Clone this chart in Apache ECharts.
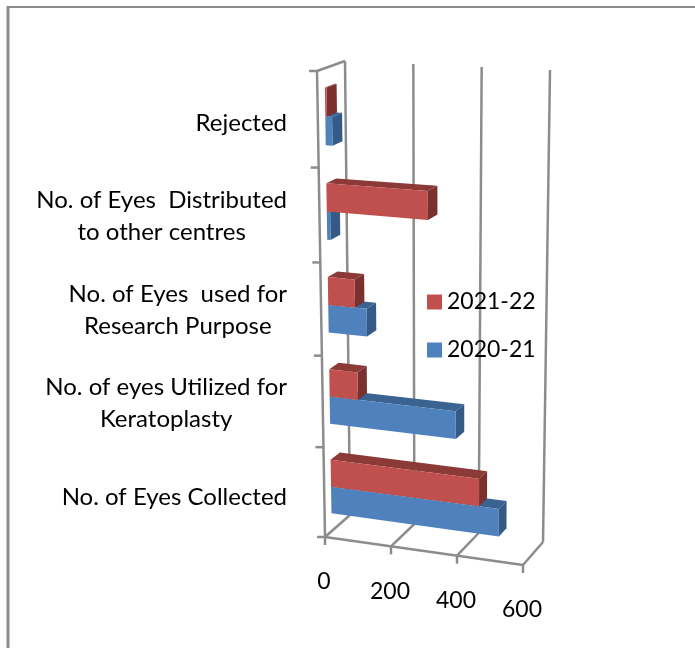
<!DOCTYPE html>
<html>
<head>
<meta charset="utf-8">
<style>
html,body{margin:0;padding:0;background:#fff;}
#chart{width:695px;height:648px;}
</style>
<script src="https://cdn.jsdelivr.net/npm/echarts@6/dist/echarts.min.js"></script>
</head>
<body>
<div id="chart"></div>
<script>
// bottom to top, same order as the value arrays
var categories = [
	'No. of Eyes Collected',
	'No. of eyes Utilized for\nKeratoplasty',
	'No. of Eyes  used for\nResearch Purpose',
	'No. of Eyes  Distributed\nto other centres',
	'Rejected'
];
var values2020 = [510, 380, 115, 10, 20];
var values2021 = [450, 85, 80, 300, 5];
var xTicks = [0, 200, 400, 600];

var FONT = 'Lato';
var LINE = '#8c8c8c';

// corners of the 3d box on screen, front and back plane
var box = {
	f00: [325, 537], f10: [523, 565], f01: [317, 71], f11: [522, 84],
	b00: [350, 515], b10: [543, 542], b01: [345, 61], b11: [550, 70]
};

function lerp(a, b, t){
	return [a[0] + (b[0] - a[0]) * t, a[1] + (b[1] - a[1]) * t];
}

// u along the value axis, v up the category axis, z into the picture
function project(u, v, z){
	var w = v - 0.045 * v * (1 - v);
	var front = lerp(lerp(box.f00, box.f10, u), lerp(box.f01, box.f11, u), w);
	var back = lerp(lerp(box.b00, box.b10, u), lerp(box.b01, box.b11, u), w);
	return lerp(front, back, z);
}

function toUnit(params, p){
	var c = params.coordSys;
	return [(p[0] - c.x) / c.width, (c.y + c.height - p[1]) / c.height];
}

function face(points, color, z2){
	return {type: 'polygon', z2: z2, shape: {points: points}, style: {fill: color}};
}

function line(a, b, z2){
	return {
		type: 'line', z2: z2,
		shape: {x1: a[0], y1: a[1], x2: b[0], y2: b[1]},
		style: {stroke: LINE, lineWidth: 2.5, fill: null}
	};
}

// shift: which half of the band, colors: front, top, side
function barRenderer(shift, colors){
	return function(params, api){
		var cat = api.value(1);
		var band = api.size([0, 1])[1];
		var centre = api.coord([0, cat]);
		var end = api.coord([api.value(0), cat]);
		var u0 = toUnit(params, centre)[0];
		var u1 = toUnit(params, end)[0];
		var vc = toUnit(params, centre)[1];
		var vb = band / params.coordSys.height;
		var v0 = vc + shift * vb * 0.3;
		var v1 = v0 + vb * 0.3;
		var z0 = 0.27, z1 = 0.63;
		var order = (categories.length - cat) * 10 + (shift < 0 ? 0 : 5);
		return {
			type: 'group',
			children: [
				face([project(u0, v1, z0), project(u1, v1, z0), project(u1, v1, z1), project(u0, v1, z1)], colors[1], order),
				face([project(u1, v0, z0), project(u1, v1, z0), project(u1, v1, z1), project(u1, v0, z1)], colors[2], order + 1),
				face([project(u0, v0, z0), project(u1, v0, z0), project(u1, v1, z0), project(u0, v1, z0)], colors[0], order + 2)
			]
		};
	};
}

function frameRenderer(params, api){
	var val = api.value(0);
	var u = toUnit(params, api.coord([val, 0]))[0];
	var bottom = project(u, 0, 0);
	var kids = [
		line(bottom, project(u, 0, 1), 1),
		line(project(u, 0, 1), project(u, 1, 1), 1),
		line(bottom, [bottom[0], bottom[1] + 8], 1),
		{
			type: 'text', z2: 1,
			style: {
				x: bottom[0] - 1, y: bottom[1] + 45, text: String(xTicks[params.dataIndex]),
				font: '23px ' + FONT, fill: '#000', textAlign: 'center', textVerticalAlign: 'middle'
			}
		}
	];
	if (params.dataIndex == xTicks.length - 1) {
		kids.push(line(project(0, 0, 0), bottom, 1));
	}
	if (val == 0) {
		kids.push(line(project(0, 0, 0), project(0, 1, 0), 1));
		kids.push(line(project(0, 1, 0), project(0, 1, 1), 1));
		for (var i = 0; i <= categories.length; i++) {
			var t = project(0, i / categories.length, 0);
			kids.push(line(t, [t[0] - 8, t[1]], 1));
		}
	}
	return {type: 'group', children: kids};
}

var chart = echarts.init(document.getElementById('chart'));
chart.setOption({
	animation: false,
	graphic: [
		{type: 'line', shape: {x1: 7, y1: 7, x2: 695, y2: 7}, style: {stroke: LINE, lineWidth: 2}},
		{type: 'line', shape: {x1: 8, y1: 6, x2: 8, y2: 648}, style: {stroke: LINE, lineWidth: 3}}
	],
	legend: {
		data: ['2021-22', '2020-21'],
		orient: 'vertical',
		left: 422,
		top: 283,
		icon: 'rect',
		itemWidth: 15,
		itemHeight: 15,
		itemGap: 20,
		selectedMode: false,
		textStyle: {fontFamily: FONT, fontSize: 23, color: '#000', lineHeight: 28}
	},
	grid: {left: 296, top: 76, width: 230, height: 468},
	xAxis: {type: 'value', min: 0, max: 600, interval: 200, show: false},
	yAxis: {
		type: 'category',
		data: categories,
		axisLine: {show: false},
		axisTick: {show: false},
		axisLabel: {
			margin: 9,
			align: 'right',
			formatter: function(value){
				return value.split('\n').map(function(s){ return '{c|' + s + '}'; }).join('\n');
			},
			rich: {c: {align: 'center', fontFamily: FONT, fontSize: 24, color: '#000', lineHeight: 32}}
		}
	},
	series: [
		{
			name: 'axes',
			type: 'custom',
			silent: true,
			z: 1,
			renderItem: frameRenderer,
			encode: {x: 0},
			data: xTicks.map(function(t){ return [t, 0]; })
		},
		{
			name: '2020-21',
			type: 'custom',
			silent: true,
			itemStyle: {color: '#4F81BD'},
			renderItem: barRenderer(-1, ['#4F81BD', '#3A6391', '#345A85']),
			encode: {x: 0, y: 1},
			data: values2020.map(function(v, i){ return [v, i]; })
		},
		{
			name: '2021-22',
			type: 'custom',
			silent: true,
			itemStyle: {color: '#C0504D'},
			renderItem: barRenderer(0, ['#C0504D', '#8C3A38', '#7A302E']),
			encode: {x: 0, y: 1},
			data: values2021.map(function(v, i){ return [v, i]; })
		}
	]
});
</script>
</body>
</html>
